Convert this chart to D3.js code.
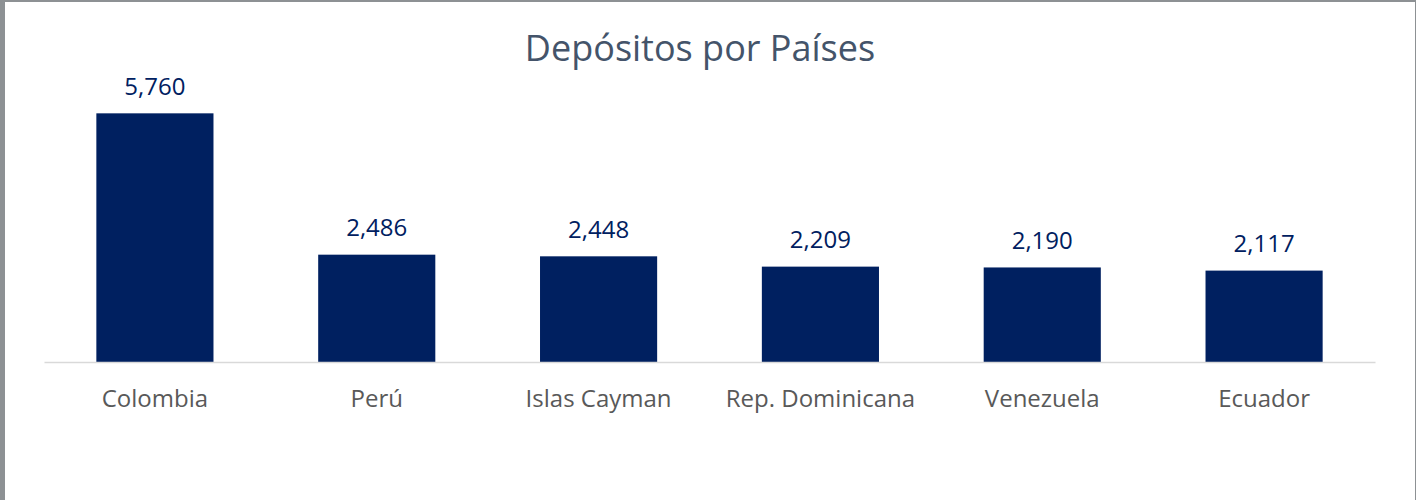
<!DOCTYPE html>
<html>
<head>
<meta charset="utf-8">
<script src="https://cdn.jsdelivr.net/npm/d3@7"></script>
<style>
  body { margin: 0; background: #fff; }
  svg { display: block; }
</style>
</head>
<body>
<script>
// data
var paises = ["Colombia", "Perú", "Islas Cayman", "Rep. Dominicana", "Venezuela", "Ecuador"];
var depositos = [5760, 2486, 2448, 2209, 2190, 2117];
var titulo = "Depósitos por Países";

var width = 1416;
var height = 500;
var fontFam = "'Open Sans', 'DejaVu Sans', sans-serif";

var svg = d3.select("body")
            .append("svg")
            .attr("width", width)
            .attr("height", height)

// frame of the screenshot
svg.append("rect").attr("x", 0).attr("y", 0).attr("width", 5).attr("height", height).attr("fill", "#8d9194")
svg.append("rect").attr("x", 0).attr("y", 0).attr("width", width).attr("height", 2).attr("fill", "#8d9194")
svg.append("rect").attr("x", 1415).attr("y", 0).attr("width", 1).attr("height", height).attr("fill", "#8d9194")

var xScale = d3.scaleBand()
               .domain(paises)
               .range([44, 1375])
               .paddingInner(0.472)
               .paddingOuter(0.236)

var yScale = d3.scaleLinear()
               .domain([0, 7000])
               .range([362, 59.8])

svg.append("text")
   .attr("x", 700)
   .attr("y", 61)
   .attr("text-anchor", "middle")
   .attr("fill", "#44546a")
   .style("font-family", fontFam)
   .style("font-size", "36px")
   .text(titulo)

var data = paises.map(function(p, i) { return {pais: p, valor: depositos[i]}; });

svg.append("g")
   .selectAll("rect")
   .data(data)
   .enter()
   .append("rect")
   .attr("x", function(d) { return xScale(d.pais); })
   .attr("y", function(d) { return yScale(d.valor); })
   .attr("width", xScale.bandwidth())
   .attr("height", function(d) { return yScale(0) - yScale(d.valor); })
   .attr("fill", "#002060")

// baseline axis
var xAxis = d3.axisBottom(xScale).tickSize(0).tickPadding(0);
var gx = svg.append("g")
            .attr("transform", "translate(0," + yScale(0) + ")")
            .call(xAxis)
gx.select(".domain").attr("stroke", "#d9d9d9").attr("stroke-width", 1.5)
gx.selectAll("text")
  .attr("y", 45)
  .attr("dy", null)
  .attr("fill", "#595959")
  .style("font-family", fontFam)
  .style("font-size", "24px")

svg.append("g")
   .selectAll("text")
   .data(data)
   .enter()
   .append("text")
   .attr("x", function(d) { return xScale(d.pais) + xScale.bandwidth() / 2; })
   .attr("y", function(d) { return yScale(d.valor) - 18.5; })
   .attr("text-anchor", "middle")
   .attr("fill", "#002060")
   .style("font-family", fontFam)
   .style("font-size", "24px")
   .text(function(d) { return d3.format(",")(d.valor); })
</script>
</body>
</html>
